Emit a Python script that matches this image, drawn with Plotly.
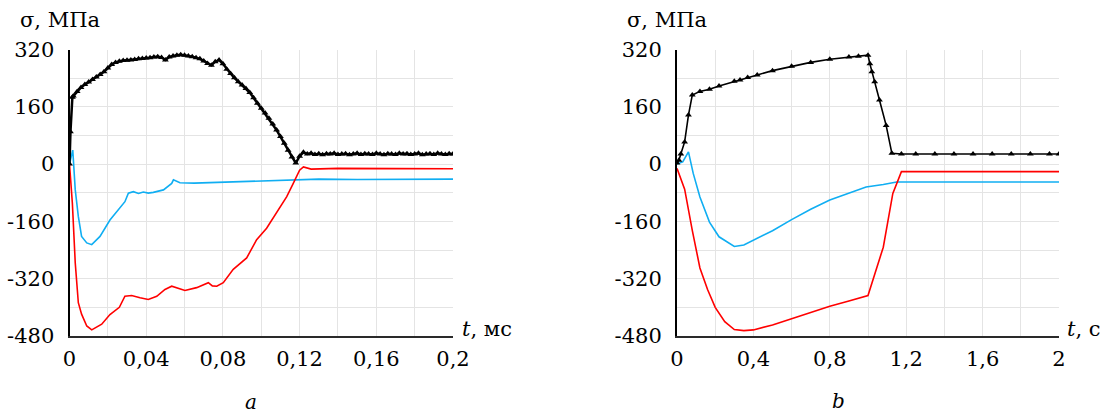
import plotly.graph_objects as go

# ---------------- Panel a (t, ms) ----------------
t_a_black = [0, 0.0005, 0.0015,
             0.002, 0.004, 0.006, 0.008, 0.010, 0.012, 0.014, 0.016, 0.018, 0.020,
             0.022, 0.024, 0.026, 0.028, 0.030, 0.032, 0.034, 0.036, 0.038, 0.040,
             0.042, 0.044, 0.046, 0.048, 0.050, 0.052, 0.054, 0.056, 0.058, 0.060,
             0.062, 0.064, 0.066, 0.068, 0.070, 0.072, 0.074, 0.076, 0.078, 0.080,
             0.082, 0.084, 0.086, 0.088, 0.090, 0.092, 0.094, 0.096, 0.098, 0.100,
             0.102, 0.104, 0.106, 0.108, 0.110, 0.112, 0.114, 0.116, 0.118, 0.120,
             0.122, 0.124, 0.126, 0.128, 0.130, 0.132, 0.134, 0.136, 0.138, 0.140,
             0.142, 0.144, 0.146, 0.148, 0.150, 0.152, 0.154, 0.156, 0.158, 0.160,
             0.162, 0.164, 0.166, 0.168, 0.170, 0.172, 0.174, 0.176, 0.178, 0.180,
             0.182, 0.184, 0.186, 0.188, 0.190, 0.192, 0.194, 0.196, 0.198, 0.200]
s_a_black = [0, 90, 187,
             190, 203, 214, 222, 229, 236, 243, 250, 258, 268,
             278, 284, 287, 289, 290, 291, 292, 294, 295, 296,
             297, 299, 300, 298, 291, 299, 302, 304, 305, 304,
             302, 300, 297, 294, 288, 281, 276, 286, 291, 280,
             265, 253, 241, 230, 221, 211, 200, 185, 170, 156,
             143, 128, 112, 95, 77, 58, 39, 20, 3, 22,
             33, 28, 30, 27, 29, 26, 29, 28, 30, 27,
             28, 29, 26, 28, 30, 27, 29, 28, 27, 30,
             28, 26, 29, 28, 27, 30, 28, 29, 27, 28,
             30, 26, 28, 29, 27, 30, 28, 27, 29, 28]

t_a_red = [0, 0.0015, 0.003, 0.0046, 0.0063, 0.009, 0.0116, 0.0168, 0.0211, 0.026,
           0.0289, 0.0324, 0.0368, 0.0411, 0.0455, 0.0498, 0.0533, 0.0559, 0.0602,
           0.0663, 0.0724, 0.0745, 0.0768, 0.0802, 0.0854, 0.0924, 0.0976, 0.1028,
           0.108, 0.1133, 0.1167, 0.12, 0.122, 0.126, 0.14, 0.16, 0.18, 0.2]
s_a_red = [0, -110, -276, -387, -419, -452, -463, -447, -420, -400,
           -369, -367, -373, -378, -369, -350, -341, -345, -353,
           -345, -331, -340, -341, -331, -294, -262, -211, -179,
           -137, -91, -54, -17, -8, -14, -12, -13, -12, -13]

t_a_blue = [0, 0.0017, 0.003, 0.0046, 0.0063, 0.009, 0.0116, 0.0159, 0.0211, 0.026,
            0.0289, 0.0307, 0.0333, 0.036, 0.0385, 0.0411, 0.0437, 0.049, 0.0533,
            0.0542, 0.0576, 0.065, 0.075, 0.085, 0.095, 0.105, 0.1176, 0.13, 0.15,
            0.17, 0.2]
s_a_blue = [0, 39, -72, -146, -202, -220, -225, -202, -156, -123,
            -105, -81, -77, -82, -78, -81, -79, -72, -54,
            -44, -52, -53, -51, -50, -48, -46, -44, -42, -43,
            -42, -42]

# ---------------- Panel b (t, s) ----------------
t_b_black = [0, 0.01, 0.02, 0.04, 0.06, 0.08, 0.12, 0.17, 0.22, 0.3, 0.33, 0.37,
             0.42, 0.5, 0.6, 0.7, 0.8, 0.9, 0.95, 1.0, 1.01, 1.02, 1.035, 1.06,
             1.095, 1.125, 1.175, 1.25, 1.35, 1.45, 1.55, 1.65, 1.75, 1.85, 1.95, 2.0]
s_b_black = [3, 11, 28, 62, 137, 193, 203, 209, 218, 231, 235, 242,
             249, 261, 273, 284, 293, 299, 301, 304, 280, 258, 230, 179,
             108, 30, 28, 28, 28, 28, 28, 28, 28, 28, 28, 28]

t_b_red = [0, 0.04, 0.08, 0.12, 0.16, 0.2, 0.25, 0.3, 0.35, 0.4, 0.5, 0.6, 0.7,
           0.8, 0.9, 1.0, 1.08, 1.13, 1.175, 2.0]
s_b_red = [-12, -70, -185, -290, -350, -400, -440, -462, -465, -463, -449, -431,
           -413, -397, -382, -367, -232, -82, -21, -21]

t_b_blue = [0, 0.03, 0.06, 0.085, 0.12, 0.17, 0.22, 0.3, 0.35, 0.4, 0.5, 0.6,
            0.7, 0.8, 0.9, 0.99, 1.08, 1.15, 2.0]
s_b_blue = [0, 6, 34, -26, -92, -162, -203, -230, -226, -213, -186, -155,
            -126, -100, -80, -64, -57, -50, -50]

# ---------------- Tick labels ----------------
y_vals = [-480, -400, -320, -240, -160, -80, 0, 80, 160, 240, 320]
y_text = ["-480", "", "-320", "", "-160", "", "0", "", "160", "", "320"]
xa_vals = [0, 0.02, 0.04, 0.06, 0.08, 0.10, 0.12, 0.14, 0.16, 0.18, 0.2]
xa_text = ["0", "", "0,04", "", "0,08", "", "0,12", "", "0,16", "", "0,2"]
xb_vals = [0, 0.2, 0.4, 0.6, 0.8, 1.0, 1.2, 1.4, 1.6, 1.8, 2.0]
xb_text = ["0", "", "0,4", "", "0,8", "", "1,2", "", "1,6", "", "2"]

RED = "#ff0000"
BLUE = "#10aef2"
BLACK = "#000000"
FONT = "DejaVu Serif"
W, H = 1102, 414

fig = go.Figure()
fig.add_trace(go.Scatter(x=t_a_blue, y=s_a_blue, mode="lines",
                         line=dict(color=BLUE, width=1.6), xaxis="x", yaxis="y"))
fig.add_trace(go.Scatter(x=t_a_red, y=s_a_red, mode="lines",
                         line=dict(color=RED, width=1.6), xaxis="x", yaxis="y"))
fig.add_trace(go.Scatter(x=t_a_black, y=s_a_black, mode="lines+markers",
                         line=dict(color=BLACK, width=2.5),
                         marker=dict(symbol="triangle-up", size=6, color=BLACK),
                         xaxis="x", yaxis="y"))
fig.add_trace(go.Scatter(x=t_b_blue, y=s_b_blue, mode="lines",
                         line=dict(color=BLUE, width=1.6), xaxis="x2", yaxis="y2"))
fig.add_trace(go.Scatter(x=t_b_red, y=s_b_red, mode="lines",
                         line=dict(color=RED, width=1.6), xaxis="x2", yaxis="y2"))
fig.add_trace(go.Scatter(x=t_b_black, y=s_b_black, mode="lines+markers",
                         line=dict(color=BLACK, width=1.6),
                         marker=dict(symbol="triangle-up", size=6, color=BLACK),
                         xaxis="x2", yaxis="y2"))

ydom = [1 - 336 / H, 1 - 49.5 / H]
common_x = dict(showgrid=True, gridcolor="#e4e4e4", gridwidth=1, zeroline=False,
                showline=True, linecolor="#2a2a2a", linewidth=2, ticks="",
                tickmode="array", tickfont=dict(family=FONT, size=21, color="black"),
                ticklabelstandoff=3, automargin=False)
common_y = dict(showgrid=True, gridcolor="#e4e4e4", gridwidth=1, zeroline=False,
                showline=True, linecolor="#000000", linewidth=2, ticks="",
                tickmode="array", tickvals=y_vals, ticktext=y_text,
                range=[-480, 320], domain=ydom, automargin=False,
                tickfont=dict(family=FONT, size=21, color="black"),
                ticklabelstandoff=9)

fig.update_layout(
    width=W, height=H, margin=dict(l=0, r=0, t=0, b=0, autoexpand=False),
    paper_bgcolor="white", plot_bgcolor="white", showlegend=False,
    xaxis=dict(common_x, domain=[69.5 / W, 453 / W], range=[0, 0.2],
               tickvals=xa_vals, ticktext=xa_text, anchor="y"),
    yaxis=dict(common_y, anchor="x"),
    xaxis2=dict(common_x, domain=[677 / W, 1059 / W], range=[0, 2],
                tickvals=xb_vals, ticktext=xb_text, anchor="y2"),
    yaxis2=dict(common_y, anchor="x2"),
)

def ann(text, px, py, xanchor="left", size=21):
    fig.add_annotation(text=text, x=px / W, y=1 - py / H, xref="paper", yref="paper",
                       xanchor=xanchor, yanchor="middle", showarrow=False,
                       font=dict(family=FONT, size=size, color="black"))

ann("σ, МПа", 18, 20)
ann("σ, МПа", 625, 20)
ann("<i>t</i>, мс", 460, 329)
ann("<i>t</i>, с", 1065, 329)
ann("<i>a</i>", 251, 402, xanchor="center", size=20)
ann("<i>b</i>", 838, 401, xanchor="center", size=20)

fig.write_html("out.html")
